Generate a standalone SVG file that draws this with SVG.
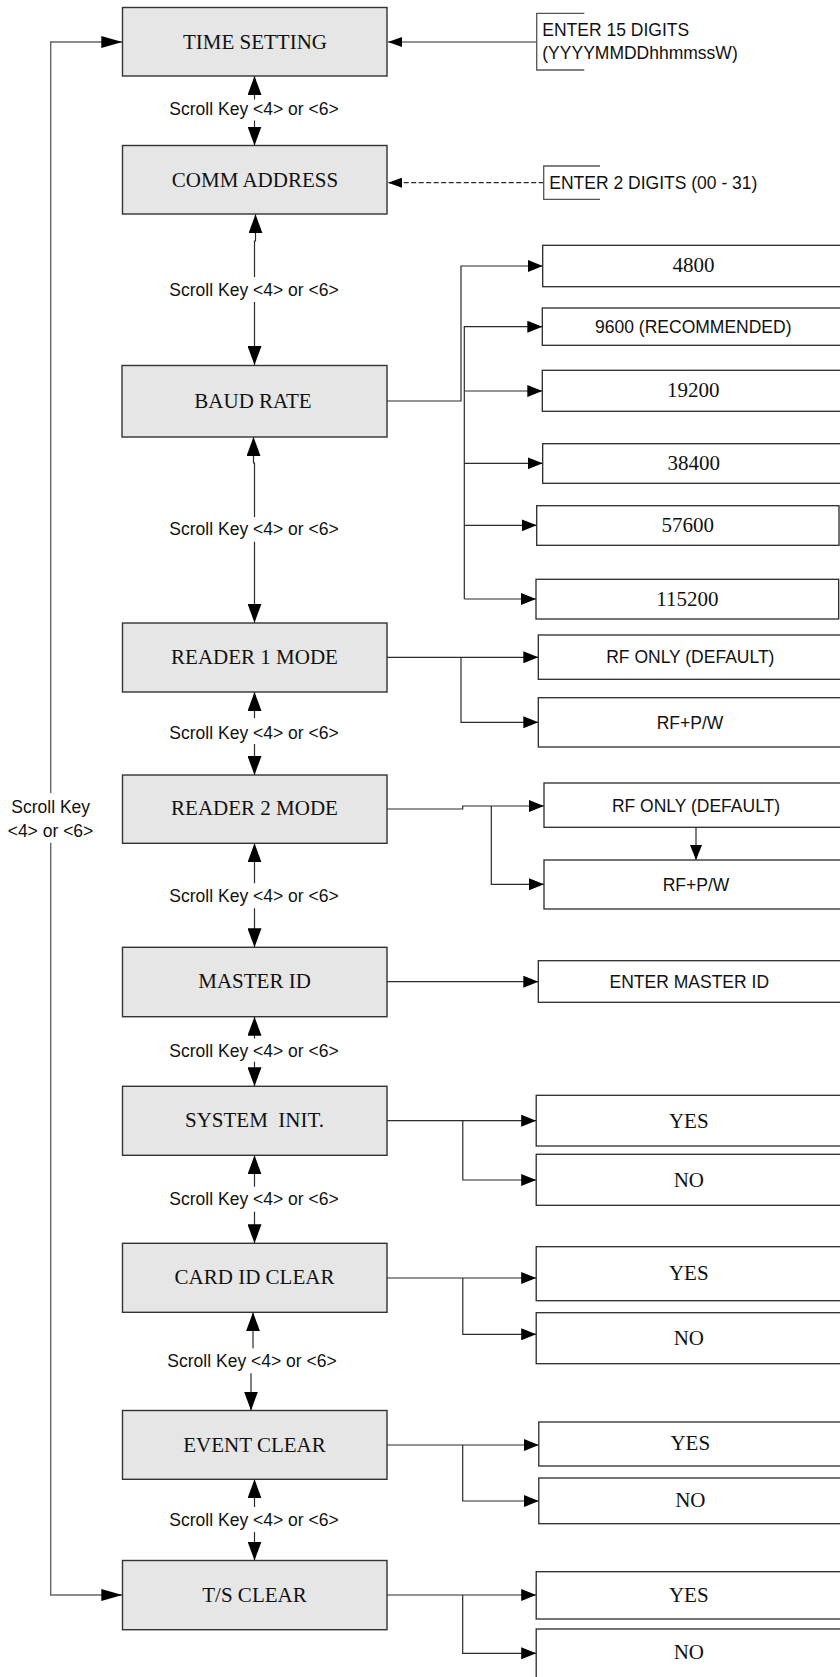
<svg xmlns="http://www.w3.org/2000/svg" width="840" height="1677" viewBox="0 0 840 1677">
  <style>
    .menu { fill: #e6e6e6; stroke: #333; stroke-width: 1.4; }
    .opt { fill: #fff; stroke: #2a2a2a; stroke-width: 1.3; }
    .ser { font-family: "Liberation Serif", "Times New Roman", serif; font-size: 21px; fill: #111; text-anchor: middle; }
    .san { font-family: "Liberation Sans", Arial, sans-serif; font-size: 17.5px; fill: #111; }
    .mid { text-anchor: middle; }
    .ln { fill: none; stroke: #2b2b2b; stroke-width: 1.2; }
    .loop { fill: none; stroke: #666; stroke-width: 1.4; }
    .br { fill: none; stroke: #555; stroke-width: 1.3; }
  </style>
  <defs>
    <marker id="ah" markerUnits="userSpaceOnUse" markerWidth="16" markerHeight="12" refX="15" refY="6" orient="auto">
      <path d="M0,0 L15,6 L0,12 Z" fill="#000"/>
    </marker>
    <marker id="as" markerUnits="userSpaceOnUse" markerWidth="15" markerHeight="10" refX="14" refY="5" orient="auto">
      <path d="M0,0 L14,5 L0,10 Z" fill="#000"/>
    </marker>
    <marker id="av" markerUnits="userSpaceOnUse" markerWidth="20" markerHeight="14" refX="19" refY="7" orient="auto">
      <path d="M0,0 L19,7 L0,14 Z" fill="#000"/>
    </marker>
    <marker id="al" markerUnits="userSpaceOnUse" markerWidth="22" markerHeight="12" refX="21" refY="6" orient="auto">
      <path d="M0,0 L21,6 L0,12 Z" fill="#000"/>
    </marker>
  </defs>

  <!-- connectors -->
  <g id="connectors">
    <!-- inputs into the first two menus -->
    <path class="ln" d="M536.7,42 H388" marker-end="url(#as)"/>
    <path class="ln" d="M543.7,182.7 H388" stroke-dasharray="5 2.5" marker-end="url(#as)"/>

    <!-- wrap-around loop -->
    <path class="loop" d="M50.7,793 V42 H122.3" marker-end="url(#al)"/>
    <path class="loop" d="M50.7,842.7 V1595 H122.3" marker-end="url(#al)"/>

    <!-- scroll links between menus -->
    <path class="ln" d="M254.5,99.5 V76" marker-end="url(#av)"/>
    <path class="ln" d="M254.5,120.5 V145.5" marker-end="url(#av)"/>
    <path class="ln" d="M254.5,277 V241 H255.5 V214.3" marker-end="url(#av)"/>
    <path class="ln" d="M254.5,302 V365" marker-end="url(#av)"/>
    <path class="ln" d="M254.5,517 V463 H253.5 V437" marker-end="url(#av)"/>
    <path class="ln" d="M254.5,541.7 V622.7" marker-end="url(#av)"/>
    <path class="ln" d="M254.5,718 V692" marker-end="url(#av)"/>
    <path class="ln" d="M254.5,744 V775" marker-end="url(#av)"/>
    <path class="ln" d="M254.5,883.3 V843.3" marker-end="url(#av)"/>
    <path class="ln" d="M254.5,908.3 V947.3" marker-end="url(#av)"/>
    <path class="ln" d="M254.5,1038.5 V1016.7" marker-end="url(#av)"/>
    <path class="ln" d="M254.5,1061.7 V1086.3" marker-end="url(#av)"/>
    <path class="ln" d="M254.5,1186.7 V1155.3" marker-end="url(#av)"/>
    <path class="ln" d="M254.5,1211.7 V1243.3" marker-end="url(#av)"/>
    <path class="ln" d="M253,1348.3 V1312.3" marker-end="url(#av)"/>
    <path class="ln" d="M251,1373.3 V1410.5" marker-end="url(#av)"/>
    <path class="ln" d="M254.5,1507 V1479.3" marker-end="url(#av)"/>
    <path class="ln" d="M254.5,1532 V1560.5" marker-end="url(#av)"/>

    <!-- baud rate choices -->
    <path class="ln" d="M387,401 H461 V266 H542.7" marker-end="url(#ah)"/>
    <path class="ln" d="M464.3,599 V326.7 H542.3" marker-end="url(#ah)"/>
    <path class="ln" d="M464.3,391 H542.3" marker-end="url(#ah)"/>
    <path class="ln" d="M464.3,463.3 H542.7" marker-end="url(#ah)"/>
    <path class="ln" d="M464.3,525.3 H536.7" marker-end="url(#ah)"/>
    <path class="ln" d="M464.3,599 H536" marker-end="url(#ah)"/>

    <!-- reader 1 mode -->
    <path class="ln" d="M387,657.3 H538.3" marker-end="url(#ah)"/>
    <path class="ln" d="M461,657.3 V722.3 H538.3" marker-end="url(#ah)"/>

    <!-- reader 2 mode -->
    <path class="ln" d="M387,809 H462.7 V806 H544" marker-end="url(#ah)"/>
    <path class="ln" d="M491.3,806 V884.3 H544" marker-end="url(#ah)"/>
    <path class="ln" d="M696,827.3 V860" marker-end="url(#ah)"/>

    <!-- master id -->
    <path class="ln" d="M387,981.7 H538.3" marker-end="url(#ah)"/>

    <!-- system init -->
    <path class="ln" d="M387,1120.7 H536.2" marker-end="url(#ah)"/>
    <path class="ln" d="M462.8,1120.7 V1180 H536.2" marker-end="url(#ah)"/>

    <!-- card id clear -->
    <path class="ln" d="M387,1278 H536.2" marker-end="url(#ah)"/>
    <path class="ln" d="M462.8,1278 V1334.3 H536.2" marker-end="url(#ah)"/>

    <!-- event clear -->
    <path class="ln" d="M387,1445 H538.8" marker-end="url(#ah)"/>
    <path class="ln" d="M462.7,1445 V1501 H538.8" marker-end="url(#ah)"/>

    <!-- t/s clear -->
    <path class="ln" d="M387,1595 H536.2" marker-end="url(#ah)"/>
    <path class="ln" d="M462.7,1595 V1653.3 H536.2" marker-end="url(#ah)"/>

    <!-- scroll key labels -->
    <text class="san mid" x="254" y="115">Scroll Key &lt;4&gt; or &lt;6&gt;</text>
    <text class="san mid" x="254" y="295.7">Scroll Key &lt;4&gt; or &lt;6&gt;</text>
    <text class="san mid" x="254" y="534.5">Scroll Key &lt;4&gt; or &lt;6&gt;</text>
    <text class="san mid" x="254" y="739.3">Scroll Key &lt;4&gt; or &lt;6&gt;</text>
    <text class="san mid" x="254" y="901.7">Scroll Key &lt;4&gt; or &lt;6&gt;</text>
    <text class="san mid" x="254" y="1057.3">Scroll Key &lt;4&gt; or &lt;6&gt;</text>
    <text class="san mid" x="254" y="1205">Scroll Key &lt;4&gt; or &lt;6&gt;</text>
    <text class="san mid" x="252" y="1366.7">Scroll Key &lt;4&gt; or &lt;6&gt;</text>
    <text class="san mid" x="254" y="1526">Scroll Key &lt;4&gt; or &lt;6&gt;</text>
    <text class="san mid" x="50.7" y="813.3">Scroll Key</text>
    <text class="san mid" x="50.5" y="837.3">&lt;4&gt; or &lt;6&gt;</text>
  </g>

  <!-- input notes -->
  <g id="note-time">
    <path class="br" d="M584.3,13.3 H536.7 V70 H584.3"/>
    <text class="san" x="542.3" y="36">ENTER 15 DIGITS</text>
    <text class="san" x="542.3" y="59.3">(YYYYMMDDhhmmssW)</text>
  </g>
  <g id="note-comm">
    <path class="br" d="M600,166 H543.7 V199.3 H600"/>
    <text class="san" x="549.3" y="189.3">ENTER 2 DIGITS (00 - 31)</text>
  </g>

  <!-- menu items -->
  <g id="time-setting">
    <rect class="menu" x="122.5" y="7.5" width="264.5" height="68.5"/>
    <text class="ser" x="255" y="48.7">TIME SETTING</text>
  </g>
  <g id="comm-address">
    <rect class="menu" x="122.5" y="145.5" width="264.5" height="68.5"/>
    <text class="ser" x="255" y="187">COMM ADDRESS</text>
  </g>
  <g id="baud-rate">
    <rect class="menu" x="122" y="365.5" width="265" height="71.5"/>
    <text class="ser" x="253" y="407.5">BAUD RATE</text>
  </g>
  <g id="reader1-mode">
    <rect class="menu" x="122.5" y="623" width="264.5" height="69"/>
    <text class="ser" x="254.5" y="663.5">READER 1 MODE</text>
  </g>
  <g id="reader2-mode">
    <rect class="menu" x="122.5" y="775" width="264.5" height="68.3"/>
    <text class="ser" x="254.5" y="815">READER 2 MODE</text>
  </g>
  <g id="master-id">
    <rect class="menu" x="122.5" y="947.3" width="264.5" height="69.4"/>
    <text class="ser" x="254.5" y="987.7">MASTER ID</text>
  </g>
  <g id="system-init">
    <rect class="menu" x="122.5" y="1086.3" width="264.5" height="69"/>
    <text class="ser" x="254.5" y="1127.3" xml:space="preserve" style="white-space:pre">SYSTEM  INIT.</text>
  </g>
  <g id="card-id-clear">
    <rect class="menu" x="122.5" y="1243.3" width="264.5" height="69"/>
    <text class="ser" x="254.5" y="1284">CARD ID CLEAR</text>
  </g>
  <g id="event-clear">
    <rect class="menu" x="122.5" y="1410.5" width="264.5" height="68.8"/>
    <text class="ser" x="254.5" y="1451.7">EVENT CLEAR</text>
  </g>
  <g id="ts-clear">
    <rect class="menu" x="122.5" y="1560.5" width="264.5" height="69.2"/>
    <text class="ser" x="254.5" y="1602">T/S CLEAR</text>
  </g>

  <!-- baud rate options -->
  <g id="baud-4800">
    <rect class="opt" x="542.7" y="245.3" width="310" height="41.4"/>
    <text class="ser" x="693.5" y="272">4800</text>
  </g>
  <g id="baud-9600">
    <rect class="opt" x="542.3" y="308" width="310" height="37.3"/>
    <text class="san mid" x="693.3" y="332.8">9600 (RECOMMENDED)</text>
  </g>
  <g id="baud-19200">
    <rect class="opt" x="542.3" y="370.3" width="310" height="41"/>
    <text class="ser" x="693.3" y="397">19200</text>
  </g>
  <g id="baud-38400">
    <rect class="opt" x="542.7" y="443.7" width="310" height="39.6"/>
    <text class="ser" x="693.7" y="470">38400</text>
  </g>
  <g id="baud-57600">
    <rect class="opt" x="536.7" y="505.7" width="302.3" height="39.6"/>
    <text class="ser" x="687.8" y="532">57600</text>
  </g>
  <g id="baud-115200">
    <rect class="opt" x="536" y="579.3" width="302.7" height="39.7"/>
    <text class="ser" x="687.3" y="605.5">115200</text>
  </g>

  <!-- reader 1 options -->
  <g id="r1-rf-only">
    <rect class="opt" x="538.3" y="635" width="310" height="44.3"/>
    <text class="san mid" x="690.3" y="663.3">RF ONLY (DEFAULT)</text>
  </g>
  <g id="r1-rf-pw">
    <rect class="opt" x="538.3" y="697.7" width="310" height="49.3"/>
    <text class="san mid" x="690" y="728.5">RF+P/W</text>
  </g>

  <!-- reader 2 options -->
  <g id="r2-rf-only">
    <rect class="opt" x="544" y="783" width="310" height="44.3"/>
    <text class="san mid" x="696" y="811.5">RF ONLY (DEFAULT)</text>
  </g>
  <g id="r2-rf-pw">
    <rect class="opt" x="544" y="860" width="310" height="49"/>
    <text class="san mid" x="696" y="890.5">RF+P/W</text>
  </g>

  <!-- master id entry -->
  <g id="master-entry">
    <rect class="opt" x="538.3" y="960.7" width="310" height="41.6"/>
    <text class="san mid" x="689.3" y="987.8">ENTER MASTER ID</text>
  </g>

  <!-- yes / no confirmations -->
  <g id="sys-yes">
    <rect class="opt" x="536.2" y="1095.3" width="312" height="50.7"/>
    <text class="ser" x="688.8" y="1127.5">YES</text>
  </g>
  <g id="sys-no">
    <rect class="opt" x="536.2" y="1154.3" width="312" height="51"/>
    <text class="ser" x="688.8" y="1186.5">NO</text>
  </g>
  <g id="card-yes">
    <rect class="opt" x="536.2" y="1246.7" width="312" height="54"/>
    <text class="ser" x="688.8" y="1280">YES</text>
  </g>
  <g id="card-no">
    <rect class="opt" x="536.2" y="1312.7" width="312" height="51"/>
    <text class="ser" x="688.8" y="1345">NO</text>
  </g>
  <g id="event-yes">
    <rect class="opt" x="538.8" y="1422" width="312" height="44"/>
    <text class="ser" x="690.3" y="1450">YES</text>
  </g>
  <g id="event-no">
    <rect class="opt" x="538.8" y="1478" width="312" height="45.7"/>
    <text class="ser" x="690.3" y="1506.7">NO</text>
  </g>
  <g id="ts-yes">
    <rect class="opt" x="536.2" y="1571.7" width="312" height="47.3"/>
    <text class="ser" x="688.8" y="1601.7">YES</text>
  </g>
  <g id="ts-no">
    <rect class="opt" x="536.2" y="1629" width="312" height="60"/>
    <text class="ser" x="688.8" y="1659.3">NO</text>
  </g>
</svg>
